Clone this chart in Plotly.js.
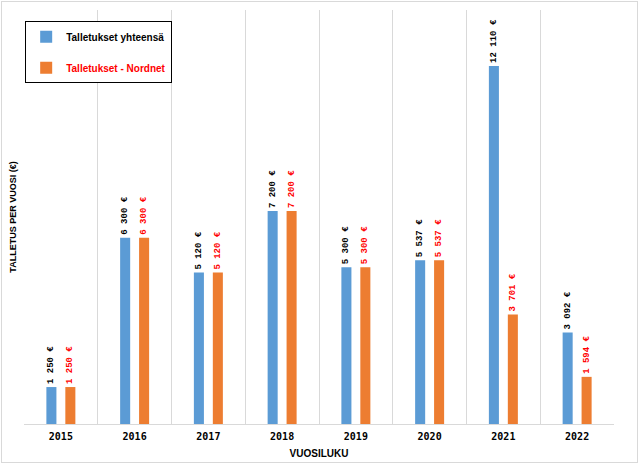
<!DOCTYPE html>
<html>
<head>
<meta charset="utf-8">
<script src="https://cdn.plot.ly/plotly-3.0.1.min.js"></script>
<style>
  html, body { margin: 0; padding: 0; background: #fff; }
  #wrap { position: relative; width: 639px; height: 464px; }
  #frame { position: absolute; left: 1px; top: 1px; width: 635px; height: 460px;
           border: 1px solid #d9d9d9; pointer-events: none; }
</style>
</head>
<body>
<div id="wrap">
  <div id="chart"></div>
  <div id="frame"></div>
</div>
<script>
// chart values
const years = ['2015', '2016', '2017', '2018', '2019', '2020', '2021', '2022'];
const totalDeposits = [1250, 6300, 5120, 7200, 5300, 5537, 12110, 3092];
const nordnetDeposits = [1250, 6300, 5120, 7200, 5300, 5537, 3701, 1594];

const labelFont = (color) => ({ family: 'Liberation Mono, monospace', size: 9, color });

const traces = [
  {
    type: 'bar',
    x: years,
    y: totalDeposits,
    name: '<b>Talletukset yhteensä</b>',
    legendgroup: 'a',
    marker: { color: '#5B9BD5' },
    texttemplate: '<b>%{y:,.0f} €</b>',
    textposition: 'outside',
    textangle: -90,
    constraintext: 'none',
    cliponaxis: false,
    outsidetextfont: labelFont('#000000'),
    hoverinfo: 'none'
  },
  {
    type: 'bar',
    x: years,
    y: nordnetDeposits,
    name: '<span style="color:#ff0000"><b>Talletukset - Nordnet</b></span>',
    legendgroup: 'b',
    marker: { color: '#ED7D31' },
    texttemplate: '<b>%{y:,.0f} €</b>',
    textposition: 'outside',
    textangle: -90,
    constraintext: 'none',
    cliponaxis: false,
    outsidetextfont: labelFont('#ff0000'),
    hoverinfo: 'none'
  }
];

const layout = {
  width: 639,
  height: 464,
  margin: { l: 24, r: 25, t: 10, b: 40 },
  paper_bgcolor: '#ffffff',
  plot_bgcolor: '#ffffff',
  separators: ', ',
  barmode: 'group',
  bargap: 0.486,
  bargroupgap: 0.47,
  font: { family: 'Liberation Sans, Arial, sans-serif', color: '#000000' },
  showlegend: true,
  legend: {
    x: 0.002, y: 0.973, xanchor: 'left', yanchor: 'top',
    bgcolor: '#ffffff', bordercolor: '#000000', borderwidth: 1,
    font: { size: 10, color: '#000000' },
    traceorder: 'grouped',
    tracegroupgap: 12,
    itemwidth: 30
  },
  xaxis: {
    type: 'category',
    tickson: 'boundaries',
    showgrid: true,
    gridcolor: '#d9d9d9',
    gridwidth: 1,
    showline: true,
    linecolor: '#d9d9d9',
    linewidth: 1,
    ticks: '',
    ticklabelstandoff: 3,
    tickfont: { family: 'DejaVu Sans Mono, monospace', size: 10, color: '#000000', weight: 'bold' },
    title: { text: '<b>VUOSILUKU</b>', font: { size: 10 }, standoff: 8 },
    fixedrange: true
  },
  yaxis: {
    range: [0, 14000],
    showgrid: false,
    zeroline: false,
    showticklabels: false,
    ticks: '',
    title: { text: '<b>TALLETUS PER VUOSI (€)</b>', font: { size: 9 }, standoff: 4 },
    fixedrange: true
  }
};

Plotly.newPlot('chart', traces, layout, { displayModeBar: false, staticPlot: true });
</script>
</body>
</html>
